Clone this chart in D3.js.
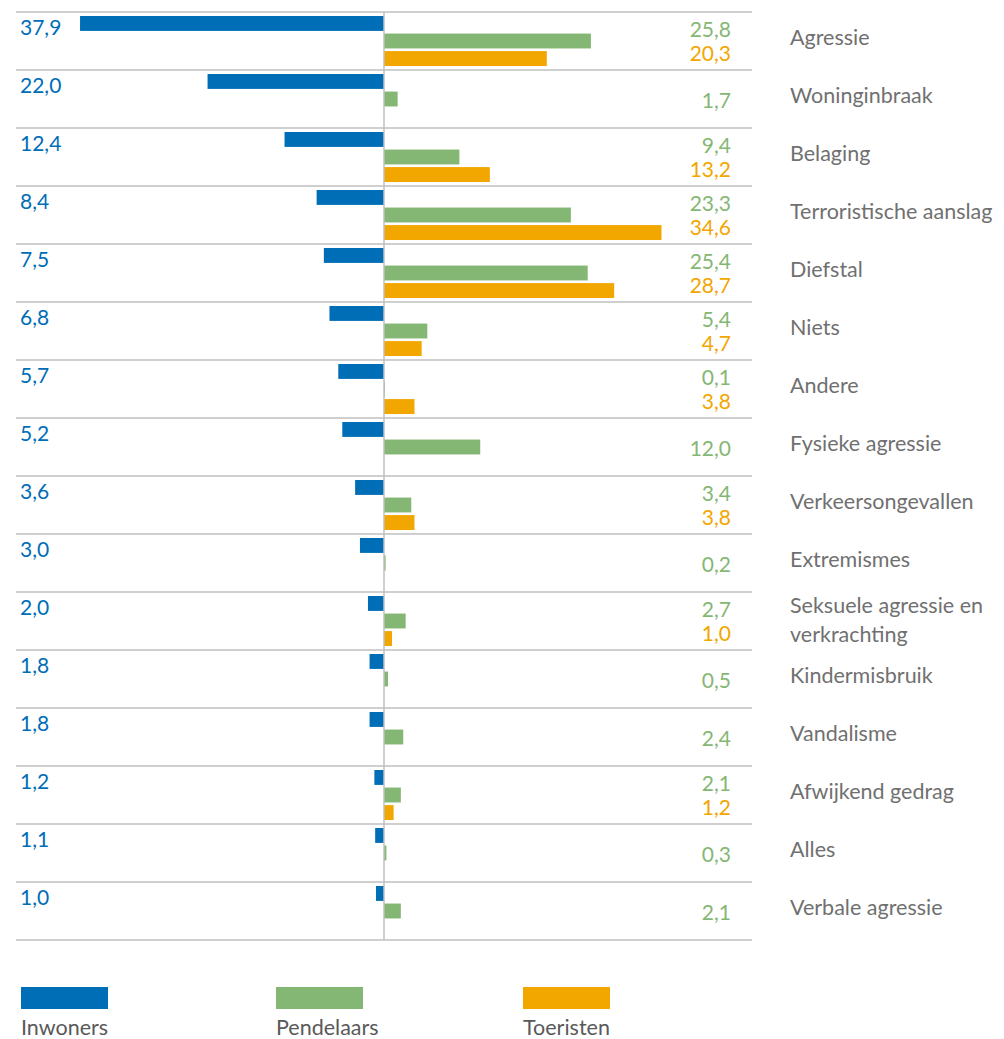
<!DOCTYPE html>
<html>
<head>
<meta charset="utf-8">
<script src="https://cdn.jsdelivr.net/npm/d3@7/dist/d3.min.js"></script>
<style>
  body { margin: 0; background: #fff; }
  svg { display: block; font-family: Lato, "Open Sans", sans-serif; }
</style>
</head>
<body>
<div id="chart"></div>
<script>
// categorieën en waarden (%)
var categories = ["Agressie", "Woninginbraak", "Belaging", "Terroristische aanslag", "Diefstal",
  "Niets", "Andere", "Fysieke agressie", "Verkeersongevallen", "Extremismes",
  "Seksuele agressie en\nverkrachting", "Kindermisbruik", "Vandalisme", "Afwijkend gedrag",
  "Alles", "Verbale agressie"];
var inwoners   = [37.9, 22.0, 12.4, 8.4, 7.5, 6.8, 5.7, 5.2, 3.6, 3.0, 2.0, 1.8, 1.8, 1.2, 1.1, 1.0];
var pendelaars = [25.8, 1.7, 9.4, 23.3, 25.4, 5.4, 0.1, 12.0, 3.4, 0.2, 2.7, 0.5, 2.4, 2.1, 0.3, 2.1];
var toeristen  = [20.3, null, 13.2, 34.6, 28.7, 4.7, 3.8, null, 3.8, null, 1.0, null, null, 1.2, null, null];
var seriesNames = ["Inwoners", "Pendelaars", "Toeristen"];
var colors = ["#006db7", "#85b774", "#f2a600"];

var width = 1004, height = 1039;
var svg = d3.select("#chart").append("svg")
  .attr("width", width)
  .attr("height", height);

var fmt = function(v) { return d3.format(".1f")(v).replace(".", ","); };

// rijen
var y = d3.scaleBand()
  .domain(d3.range(categories.length))
  .range([12, 940]);

// balken binnen een rij
var ySub = d3.scaleBand()
  .domain(seriesNames)
  .range([4, 54])
  .paddingInner(0.15);

// horizontale schaal, nul in het midden
var x = d3.scaleLinear()
  .domain([-40, 40])
  .range([384 - 320.8, 384 + 320.8]);

// scheidingslijnen
svg.selectAll("line.row")
  .data(d3.range(categories.length + 1))
  .enter().append("line")
  .attr("class", "row")
  .attr("x1", 16).attr("x2", 752)
  .attr("y1", function(i) { return i < categories.length ? y(i) : y(i - 1) + y.bandwidth(); })
  .attr("y2", function(i) { return i < categories.length ? y(i) : y(i - 1) + y.bandwidth(); })
  .attr("stroke", "#bfbfbf")
  .attr("stroke-width", 1.5);

var rows = svg.selectAll("g.cat")
  .data(categories)
  .enter().append("g")
  .attr("class", "cat")
  .attr("transform", function(d, i) { return "translate(0," + y(i) + ")"; });

// Inwoners (links)
rows.append("rect")
  .attr("x", function(d, i) { return x(-inwoners[i]); })
  .attr("y", ySub("Inwoners"))
  .attr("width", function(d, i) { return x(0) - x(-inwoners[i]); })
  .attr("height", ySub.bandwidth())
  .attr("fill", colors[0]);

// Pendelaars
rows.append("rect")
  .attr("x", x(0))
  .attr("y", ySub("Pendelaars"))
  .attr("width", function(d, i) { return x(pendelaars[i]) - x(0); })
  .attr("height", ySub.bandwidth())
  .attr("fill", colors[1]);

// Toeristen
rows.filter(function(d, i) { return toeristen[i] != null; })
  .append("rect")
  .attr("x", x(0))
  .attr("y", ySub("Toeristen"))
  .attr("width", function(d) { var i = categories.indexOf(d); return x(toeristen[i]) - x(0); })
  .attr("height", ySub.bandwidth())
  .attr("fill", colors[2]);

// waarden
rows.append("text")
  .attr("x", 20).attr("y", 23)
  .attr("font-size", 21)
  .attr("fill", colors[0])
  .text(function(d, i) { return fmt(inwoners[i]); });

rows.append("text")
  .attr("x", 731)
  .attr("y", function(d, i) { return toeristen[i] != null ? 25 : 38; })
  .attr("text-anchor", "end")
  .attr("font-size", 21)
  .attr("fill", colors[1])
  .text(function(d, i) { return fmt(pendelaars[i]); });

rows.append("text")
  .attr("x", 731).attr("y", 49)
  .attr("text-anchor", "end")
  .attr("font-size", 21)
  .attr("fill", colors[2])
  .text(function(d, i) { return toeristen[i] != null ? fmt(toeristen[i]) : ""; });

// categorie labels
rows.each(function(d) {
  var lines = d.split("\n");
  var t = d3.select(this).append("text")
    .attr("x", 790)
    .attr("font-size", 21.5)
    .attr("fill", "#707070");
  lines.forEach(function(l, k) {
    t.append("tspan")
      .attr("x", 790)
      .attr("y", lines.length > 1 ? 21 + k * 29 : 33)
      .text(l);
  });
});

// middenlijn
svg.append("line")
  .attr("x1", x(0)).attr("x2", x(0))
  .attr("y1", 12).attr("y2", 940)
  .attr("stroke", "#bfbfbf")
  .attr("stroke-width", 1.5);

// legenda
var legendX = [21, 276, 523];
var legend = svg.selectAll("g.legend")
  .data(seriesNames)
  .enter().append("g")
  .attr("class", "legend")
  .attr("transform", function(d, i) { return "translate(" + legendX[i] + ",987)"; });

legend.append("rect")
  .attr("width", 87).attr("height", 22)
  .attr("fill", function(d, i) { return colors[i]; });

legend.append("text")
  .attr("x", 0).attr("y", 48)
  .attr("font-size", 21.5)
  .attr("fill", "#595959")
  .text(function(d) { return d; });
</script>
</body>
</html>
